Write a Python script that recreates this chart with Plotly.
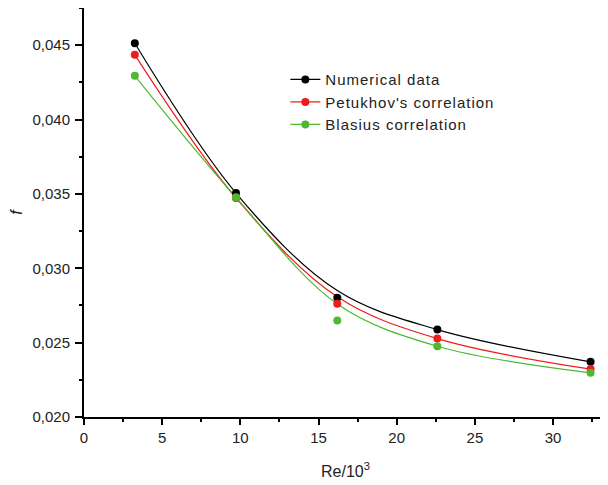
import plotly.graph_objects as go

# Re/10^3 values of the simulated cases
re_k = [3.25, 9.72, 16.2, 22.6, 32.4]

# friction factor at each case
numerical = [0.04513, 0.03506, 0.02802, 0.02588, 0.02371]
petukhov = [0.04435, 0.03473, 0.02762, 0.02527, 0.02322]
blasius = [0.04294, 0.03477, 0.02648, 0.02476, 0.02297]

# smoothed fit curves (they pass above the 3rd points)
numerical_fit = [0.04513, 0.03506, 0.02850, 0.02588, 0.02371]
petukhov_fit = [0.04435, 0.03473, 0.02808, 0.02527, 0.02322]
blasius_fit = [0.04294, 0.03477, 0.02760, 0.02476, 0.02297]

names = ["Numerical data", "Petukhov's correlation", "Blasius correlation"]
colors = ["#000000", "#ee1c1c", "#4fb830"]

fig = go.Figure()

series = [
    (numerical, numerical_fit),
    (petukhov, petukhov_fit),
    (blasius, blasius_fit),
]

for (pts, fit), name, col in zip(series, names, colors):
    fig.add_trace(go.Scatter(
        x=re_k, y=fit, mode="lines",
        line=dict(color=col, width=1.2, shape="spline", smoothing=1.0),
        showlegend=False, hoverinfo="skip",
    ))

for (pts, fit), name, col in zip(series, names, colors):
    fig.add_trace(go.Scatter(
        x=re_k, y=pts, mode="markers",
        marker=dict(color=col, size=8),
        showlegend=False,
    ))

# legend entries (line + dot); the original text is a little spaced out
for name, col in zip(names, colors):
    fig.add_trace(go.Scatter(
        x=[None], y=[None], mode="lines+markers",
        name='<span style="letter-spacing:1px">' + name + '</span>',
        line=dict(color=col, width=1.2),
        marker=dict(color=col, size=8),
    ))

# page body adds an 8px offset, so the figure is a bit smaller than the window
fig.update_layout(
    width=600,
    height=477,
    margin=dict(l=76, r=1, t=0, b=68),
    font_family="Liberation Sans, Arial",
    font_size=15,
    font_color="#222",
    separators=",.",
    paper_bgcolor="white",
    plot_bgcolor="white",
    legend=dict(
        x=0.385, y=0.865, xanchor="left", yanchor="top",
        bgcolor="rgba(0,0,0,0)",
        font=dict(size=15, color="#222"),
        tracegroupgap=0,
    ),
    xaxis=dict(
        range=[0, 33.45],
        automargin=False,
        tickmode="array",
        tickvals=[0, 5, 10, 15, 20, 25, 30],
        ticks="outside", ticklen=6, tickwidth=2, tickcolor="black",
        minor=dict(tickvals=[2.5, 7.5, 12.5, 17.5, 22.5, 27.5, 32.5],
                   ticks="outside", ticklen=3, tickwidth=2, tickcolor="black"),
        showline=True, linecolor="black", linewidth=2,
        showgrid=False, zeroline=False,
        title=dict(text="Re/10<sup>3</sup>", font=dict(size=16), standoff=21),
    ),
    yaxis=dict(
        range=[0.020, 0.0475],
        automargin=False,
        tickmode="array",
        tickvals=[0.020, 0.025, 0.030, 0.035, 0.040, 0.045],
        tickformat=".3f",
        ticks="outside", ticklen=7, tickwidth=2, tickcolor="black",
        ticklabelstandoff=2,
        minor=dict(tickvals=[0.0225, 0.0275, 0.0325, 0.0375, 0.0425, 0.0475],
                   ticks="outside", ticklen=3, tickwidth=2, tickcolor="black"),
        showline=True, linecolor="black", linewidth=2,
        showgrid=False, zeroline=False,
        title=dict(text="<i>f</i>", font=dict(size=16), standoff=12),
    ),
)

fig.write_html("out.html")
